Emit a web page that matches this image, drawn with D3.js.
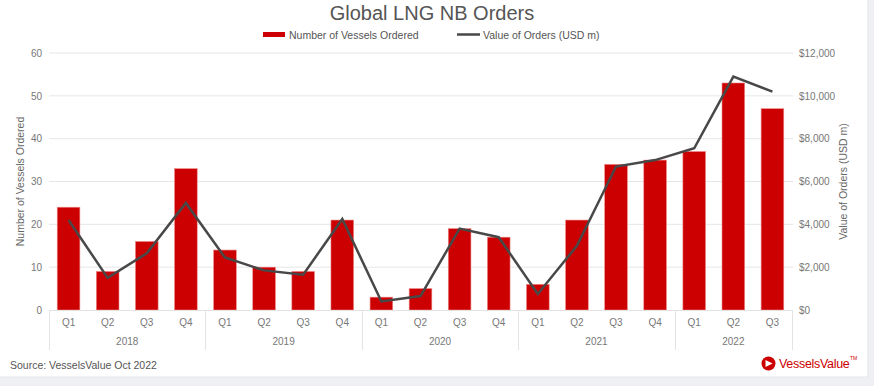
<!DOCTYPE html>
<html>
<head>
<meta charset="utf-8">
<script src="https://cdn.jsdelivr.net/npm/d3@7"></script>
<style>
  html, body { margin: 0; padding: 0; background: #eef0f3; }
  svg { display: block; font-family: "Liberation Sans", Arial, sans-serif; }
</style>
</head>
<body>
<div id="chart"></div>
<script>
// quarters and years
var years = ["2018", "2019", "2020", "2021", "2022"];
var quarters = ["Q1", "Q2", "Q3", "Q4", "Q1", "Q2", "Q3", "Q4", "Q1", "Q2", "Q3", "Q4",
                "Q1", "Q2", "Q3", "Q4", "Q1", "Q2", "Q3"];
var quarterYears = ["2018", "2018", "2018", "2018", "2019", "2019", "2019", "2019",
                    "2020", "2020", "2020", "2020", "2021", "2021", "2021", "2021",
                    "2022", "2022", "2022"];
// number of vessels ordered (bars)
var vessels = [24, 9, 16, 33, 14, 10, 9, 21, 3, 5, 19, 17, 6, 21, 34, 35, 37, 53, 47];
// value of orders, USD m (line)
var orderValue = [4200, 1500, 2650, 5000, 2450, 1850, 1650, 4250, 400, 650, 3800, 3400,
                  750, 3000, 6700, 7000, 7550, 10900, 10200];
var leftTicks = [0, 10, 20, 30, 40, 50, 60];
var rightTicks = [0, 2000, 4000, 6000, 8000, 10000, 12000];

var W = 874, H = 386;
var margin = {top: 53, right: 82, bottom: 76, left: 49};
var width = W - margin.left - margin.right,
    height = H - margin.top - margin.bottom;

var svg = d3.select("#chart").append("svg")
  .attr("width", W).attr("height", H);

// card background
svg.append("rect")
  .attr("x", -2).attr("y", -2).attr("width", 870).attr("height", 379)
  .attr("fill", "#fff").attr("stroke", "#e2e4e8");

var g = svg.append("g")
  .attr("transform", "translate(" + margin.left + "," + margin.top + ")");

var idx = d3.range(vessels.length);
var x = d3.scaleBand().domain(idx).range([0, width]).paddingInner(0.42).paddingOuter(0.21);
var y = d3.scaleLinear().domain([0, 60]).range([height, 0]);
var y2 = d3.scaleLinear().domain([0, 12000]).range([height, 0]);

// gridlines
g.selectAll(".grid").data(leftTicks.slice(1)).enter().append("line")
  .attr("x1", 0).attr("x2", width + 1)
  .attr("y1", function(d) { return y(d); }).attr("y2", function(d) { return y(d); })
  .attr("stroke", "#e6e6e6").attr("stroke-width", 1);

// left axis
var yAxis = g.append("g").call(d3.axisLeft(y).tickValues(leftTicks).tickSize(0).tickPadding(7));
yAxis.select(".domain").remove();
yAxis.selectAll("text").attr("fill", "#777").style("font-size", "10px");

// right axis
var yAxis2 = g.append("g").attr("transform", "translate(" + width + ",0)")
  .call(d3.axisRight(y2).tickValues(rightTicks).tickSize(0).tickPadding(7)
    .tickFormat(function(d) { return "$" + d3.format(",")(d); }));
yAxis2.select(".domain").remove();
yAxis2.selectAll("text").attr("fill", "#777").style("font-size", "10px");

// bars
g.selectAll(".bar").data(vessels).enter().append("rect")
  .attr("x", function(d, i) { return x(i); })
  .attr("y", function(d) { return y(d); })
  .attr("width", x.bandwidth())
  .attr("height", function(d) { return height - y(d); })
  .attr("fill", "#cc0000")
  .attr("stroke", "#ee8a8a").attr("stroke-width", 0.6);

// line
var line = d3.line()
  .x(function(d, i) { return x(i) + x.bandwidth() / 2; })
  .y(function(d) { return y2(d); });
g.append("path").datum(orderValue)
  .attr("d", line)
  .attr("fill", "none").attr("stroke", "#484848").attr("stroke-width", 2.5)
  .attr("stroke-linejoin", "miter");

// category axis
var axisCol = "#e3e3e3";
g.append("line").attr("x1", 0).attr("x2", width).attr("y1", height + 0.5).attr("y2", height + 0.5)
  .attr("stroke", axisCol);
var step = x.step();
var bounds = [0];
years.forEach(function(yr) {
  var last = quarterYears.lastIndexOf(yr);
  bounds.push(last === quarterYears.length - 1 ? width : x(last) + x.bandwidth() + step * x.paddingInner() / 2);
});
g.selectAll(".sep").data(bounds).enter().append("line")
  .attr("x1", function(d) { return Math.round(d) + 0.5; })
  .attr("x2", function(d) { return Math.round(d) + 0.5; })
  .attr("y1", height).attr("y2", height + 40)
  .attr("stroke", axisCol);

g.selectAll(".qlab").data(quarters).enter().append("text")
  .attr("x", function(d, i) { return x(i) + x.bandwidth() / 2; })
  .attr("y", height + 16)
  .attr("text-anchor", "middle")
  .attr("fill", "#777").style("font-size", "10px")
  .text(function(d) { return d; });

g.selectAll(".ylab").data(years).enter().append("text")
  .attr("x", function(d, i) { return (bounds[i] + bounds[i + 1]) / 2; })
  .attr("y", height + 35)
  .attr("text-anchor", "middle")
  .attr("fill", "#777").style("font-size", "10px")
  .text(function(d) { return d; });

// axis titles
svg.append("text")
  .attr("transform", "translate(24," + (margin.top + height / 2) + ") rotate(-90)")
  .attr("text-anchor", "middle").attr("fill", "#666").style("font-size", "10.5px")
  .text("Number of Vessels Ordered");
svg.append("text")
  .attr("transform", "translate(847," + (margin.top + height / 2) + ") rotate(-90)")
  .attr("text-anchor", "middle").attr("fill", "#666").style("font-size", "10.5px")
  .text("Value of Orders (USD m)");

// title
svg.append("text")
  .attr("x", 432).attr("y", 20)
  .attr("text-anchor", "middle").attr("fill", "#555").style("font-size", "20px")
  .text("Global LNG NB Orders");

// legend
svg.append("rect").attr("x", 263).attr("y", 32).attr("width", 22).attr("height", 5)
  .attr("fill", "#cc0000");
svg.append("text").attr("x", 289).attr("y", 38.5)
  .attr("fill", "#555").style("font-size", "10.5px")
  .text("Number of Vessels Ordered");
svg.append("line").attr("x1", 457).attr("x2", 480).attr("y1", 34.5).attr("y2", 34.5)
  .attr("stroke", "#484848").attr("stroke-width", 2.5);
svg.append("text").attr("x", 483).attr("y", 38.5)
  .attr("fill", "#555").style("font-size", "10.5px")
  .text("Value of Orders (USD m)");

// source
svg.append("text").attr("x", 10).attr("y", 369)
  .attr("fill", "#555").style("font-size", "10.5px")
  .text("Source: VesselsValue Oct 2022");

// logo
var logo = svg.append("g").attr("transform", "translate(768.5,363.5)");
logo.append("circle").attr("r", 7).attr("fill", "#cc0000");
logo.append("path").attr("d", "M-3,-3.5 L4,0 L-3,3.5 Z").attr("fill", "#fff");
svg.append("text").attr("x", 779).attr("y", 368)
  .attr("fill", "#cc0000").style("font-size", "12.5px").style("letter-spacing", "-0.3px")
  .text("VesselsValue");
svg.append("text").attr("x", 850).attr("y", 360)
  .attr("fill", "#cc0000").style("font-size", "5px")
  .text("TM");
</script>
</body>
</html>
